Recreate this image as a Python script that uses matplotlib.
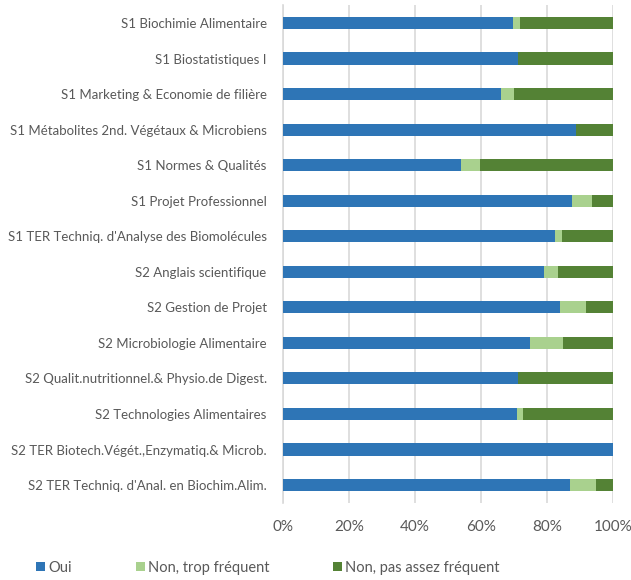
import numpy as np
import matplotlib.pyplot as plt
from matplotlib.ticker import PercentFormatter

courses = [
    "S1 Biochimie Alimentaire",
    "S1 Biostatistiques I",
    "S1 Marketing & Economie de filière",
    "S1 Métabolites 2nd. Végétaux & Microbiens",
    "S1 Normes & Qualités",
    "S1 Projet Professionnel",
    "S1 TER Techniq. d'Analyse des Biomolécules",
    "S2 Anglais scientifique",
    "S2 Gestion de Projet",
    "S2 Microbiologie Alimentaire",
    "S2 Qualit.nutritionnel.& Physio.de Digest.",
    "S2 Technologies Alimentaires",
    "S2 TER Biotech.Végét.,Enzymatiq.& Microb.",
    "S2 TER Techniq. d'Anal. en Biochim.Alim.",
]
oui = [69.8, 71.4, 66.0, 88.9, 53.8, 87.5, 82.6, 79.2, 84.0, 75.0, 71.4, 70.8, 100.0, 87.0]
trop = [2.1, 0.0, 4.0, 0.0, 5.8, 6.3, 2.1, 4.2, 8.0, 10.0, 0.0, 2.1, 0.0, 8.0]
pas_assez = [28.1, 28.6, 30.0, 11.1, 40.4, 6.2, 15.3, 16.6, 8.0, 15.0, 28.6, 27.1, 0.0, 5.0]

series = [
    ("Oui", oui, "#2E75B6"),
    ("Non, trop fréquent", trop, "#A9D18E"),
    ("Non, pas assez fréquent", pas_assez, "#548235"),
]

plt.rcParams["font.family"] = ["Lato", "DejaVu Sans"]
text_color = "#595959"

fig = plt.figure(figsize=(6.31, 5.80), dpi=100)
ax = fig.add_axes([0.449, 0.133, 0.522, 0.858])

y = np.arange(len(courses))
left = np.zeros(len(courses))
for name, vals, color in series:
    vals = np.array(vals)
    ax.barh(y, vals, left=left, height=0.34, color=color, label=name, zorder=3)
    left += vals

ax.set_ylim(len(courses) - 0.5, -0.5)
ax.set_xlim(0, 100)
ax.set_yticks(y)
ax.set_yticklabels(courses, fontsize=9.5, color=text_color)
ax.set_xticks(np.arange(0, 101, 20))
ax.xaxis.set_major_formatter(PercentFormatter(decimals=0))
ax.tick_params(axis="x", labelsize=11, colors=text_color, length=0, pad=12)
ax.tick_params(axis="y", length=0, pad=12)
ax.grid(axis="x", color="#D9D9D9", linewidth=1.2, zorder=0)
for side in ["top", "right", "bottom"]:
    ax.spines[side].set_visible(False)
ax.spines["left"].set_color("#D9D9D9")
ax.spines["left"].set_linewidth(1.2)

fig.legend(loc="center left", bbox_to_anchor=(0.037, 0.021), ncol=3, frameon=False,
           fontsize=10.5, handlelength=0.6, handleheight=0.6, handletextpad=0.2,
           columnspacing=4.4, labelcolor=text_color)

fig.savefig("out.png", dpi=100)
